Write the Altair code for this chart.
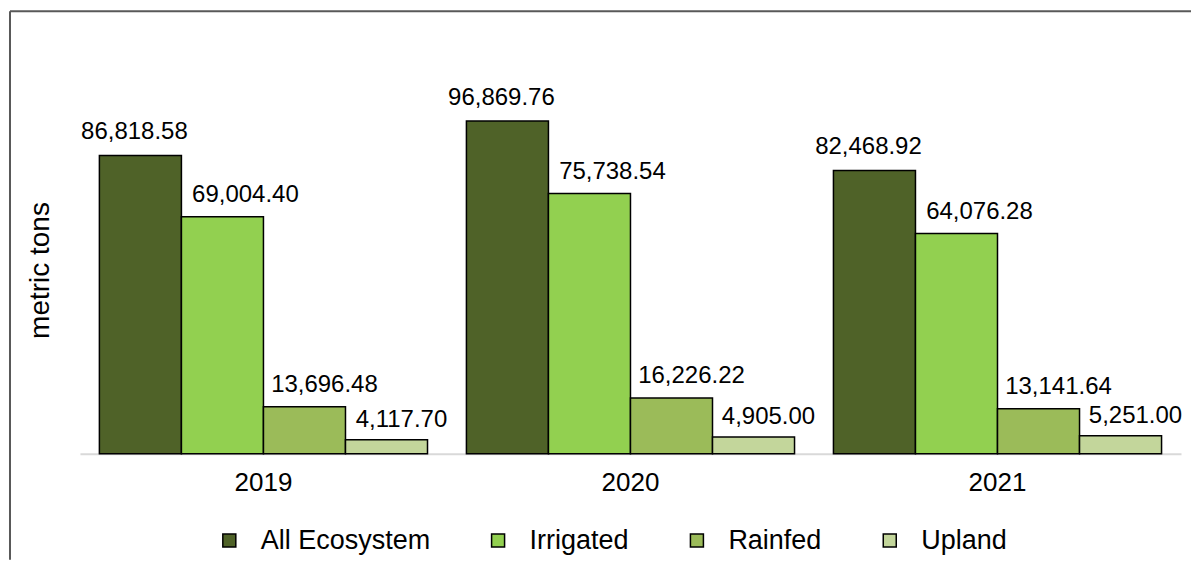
import altair as alt
import pandas as pd

years = ["2019", "2020", "2021"]
series = ["All Ecosystem", "Irrigated", "Rainfed", "Upland"]
all_eco = [86818.58, 96869.76, 82468.92]
irrigated = [69004.40, 75738.54, 64076.28]
rainfed = [13696.48, 16226.22, 13141.64]
upland = [4117.70, 4905.00, 5251.00]
colors = ["#4f6228", "#92d050", "#9bbb59", "#c3d69b"]

rows = []
for s, vals in zip(series, [all_eco, irrigated, rainfed, upland]):
    for yr, v in zip(years, vals):
        rows.append({"year": yr, "series": s, "value": v})
df = pd.DataFrame(rows)

FONT = "Liberation Sans"

x = alt.X(
    "year:N", title=None,
    scale=alt.Scale(paddingInner=0.106, paddingOuter=0.053),
    axis=alt.Axis(labelAngle=0, labelFontSize=26, labelFont=FONT, labelColor="black",
                  labelPadding=16, ticks=False, domainColor="#d9d9d9", domainWidth=2,
                  grid=False),
)
y = alt.Y(
    "value:Q",
    scale=alt.Scale(domain=[0, 100000], nice=False),
    axis=alt.Axis(title="metric tons", labels=False, ticks=False, domain=False, grid=False,
                  titleFontSize=28, titleFont=FONT, titleFontWeight="normal",
                  titleColor="black", titlePadding=25, titleY=160),
)
xo = alt.XOffset("series:N", scale=alt.Scale(domain=series, paddingInner=0, paddingOuter=0))

base = alt.Chart(df)

bars = base.mark_bar(stroke="black", strokeWidth=1.5).encode(
    x=x, y=y, xOffset=xo,
    color=alt.Color(
        "series:N",
        scale=alt.Scale(domain=series, range=colors),
        legend=alt.Legend(
            title=None, orient="none", legendX=136, legendY=417, direction="horizontal",
            symbolType="square", symbolSize=169, symbolStrokeColor="black",
            symbolStrokeWidth=1.5, labelFontSize=27, labelFont=FONT, labelColor="black",
            labelOffset=18, columnPadding=54, labelLimit=400,
        ),
    ),
)

label_offsets = {
    "All Ecosystem": (-6, -16),
    "Irrigated": (23, -15),
    "Rainfed": (20, -15),
    "Upland": (15, -13),
}

texts = []
for s in series:
    dx, dy = label_offsets[s]
    texts.append(
        base.transform_filter(alt.datum.series == s)
        .mark_text(font=FONT, fontSize=24, color="black", dx=dx, dy=dy, baseline="alphabetic")
        .encode(x=x, y=y, xOffset=xo, text=alt.Text("value:Q", format=",.2f"))
    )

frame = pd.DataFrame({"a": [0]})
border_top = alt.Chart(frame).mark_rule(color="#595959", strokeWidth=2).encode(
    x=alt.value(-70), x2=alt.value(1112), y=alt.value(-99)
)
border_left = alt.Chart(frame).mark_rule(color="#595959", strokeWidth=2).encode(
    x=alt.value(-70), y=alt.value(-99), y2=alt.value(450)
)

chart = alt.layer(bars, *texts, border_top, border_left).properties(
    width=1102, height=344, background="white",
    padding={"left": 1, "top": 2, "right": 0, "bottom": 0},
).configure_view(strokeWidth=0, strokeOpacity=0)

chart.save("out.html", embed_options={"renderer": "svg", "actions": False})
